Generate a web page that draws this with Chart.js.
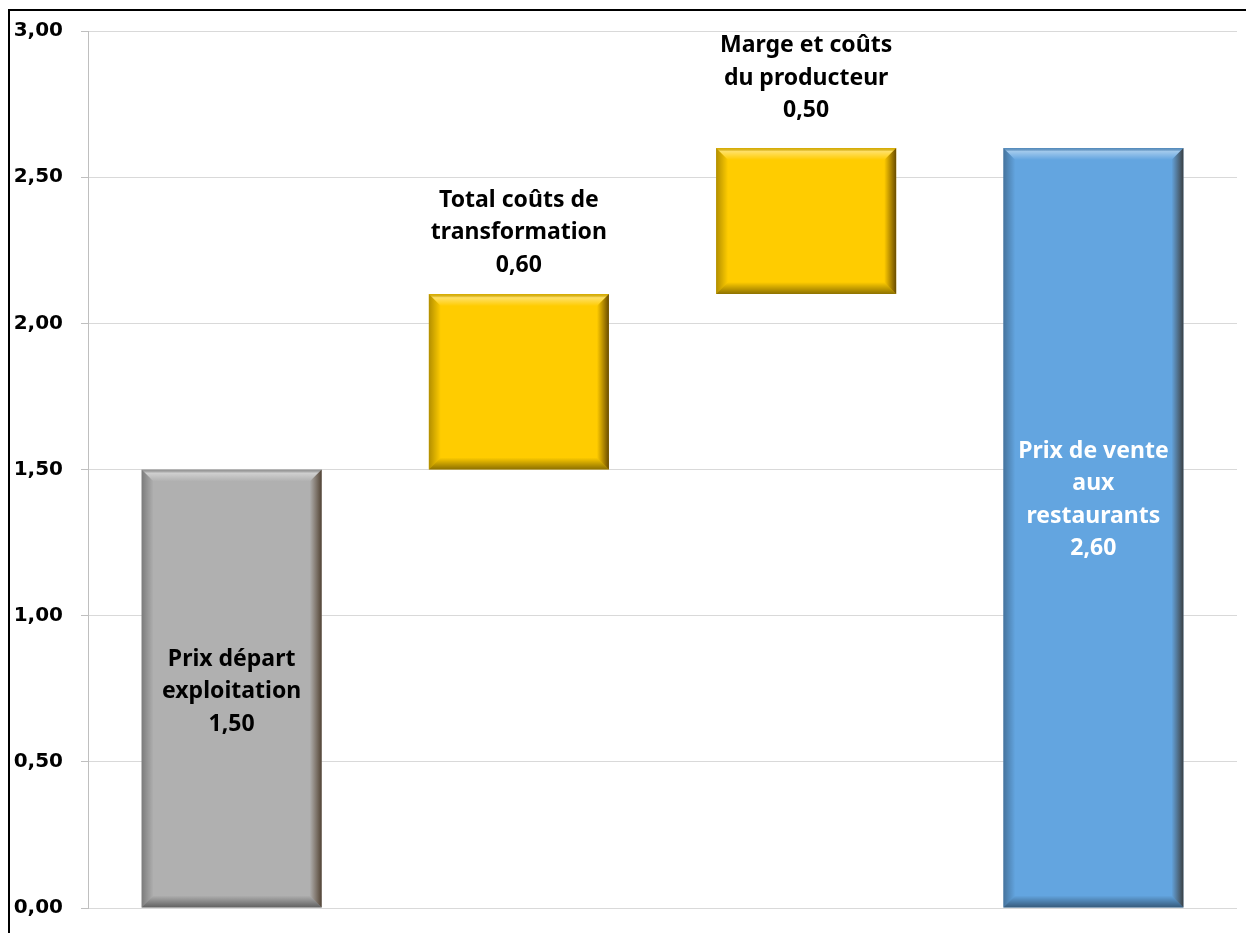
<!DOCTYPE html>
<html>
<head>
<meta charset="utf-8">
<script src="https://cdn.jsdelivr.net/npm/chart.js@4.4.1/dist/chart.umd.min.js"></script>
<style>
  html, body { margin: 0; padding: 0; background: #fff; overflow: hidden; }
  #frame { position: absolute; left: 8px; top: 9px; width: 1300px; height: 1000px; border: 2px solid #000; }
  #wrap { position: absolute; left: 0; top: 0; width: 1246px; height: 933px; }
</style>
</head>
<body>
<div id="frame"></div>
<div id="wrap"><canvas id="bar-chart"></canvas></div>
<script>
// waterfall: each step is a floating bar [from, to]
const categories = ['Prix départ exploitation', 'Total coûts de transformation', 'Marge et coûts du producteur', 'Prix de vente aux restaurants'];
const labelLines = [
  ['Prix départ', 'exploitation'],
  ['Total coûts de', 'transformation'],
  ['Marge et coûts', 'du producteur'],
  ['Prix de vente', 'aux', 'restaurants']
];
const stepValues = [1.50, 0.60, 0.50, 2.60];
const barStart = [0, 1.50, 2.10, 0];
const barEnd = [1.50, 2.10, 2.60, 2.60];
const yTicks = [0, 0.5, 1, 1.5, 2, 2.5, 3];

const barColors = ['#b0b0b0', '#ffcc00', '#ffcc00', '#63a5e0'];
const fmt = v => v.toFixed(2).replace('.', ',');

const bevelPlugin = {
  id: 'bevel',
  afterDatasetsDraw(chart) {
    const ctx = chart.ctx;
    chart.getDatasetMeta(0).data.forEach(bar => {
      const l = bar.x - bar.width / 2, r = bar.x + bar.width / 2;
      const t = Math.min(bar.y, bar.base), b = Math.max(bar.y, bar.base);
      const e = 12;
      const poly = (pts, grad) => {
        ctx.beginPath();
        ctx.moveTo(pts[0][0], pts[0][1]);
        pts.slice(1).forEach(p => ctx.lineTo(p[0], p[1]));
        ctx.closePath();
        ctx.fillStyle = grad;
        ctx.fill();
      };
      ctx.save();
      // top
      let g = ctx.createLinearGradient(0, t, 0, t + e);
      g.addColorStop(0, 'rgba(0,0,0,0.15)');
      g.addColorStop(0.3, 'rgba(255,255,255,0.4)');
      g.addColorStop(1, 'rgba(255,255,255,0)');
      poly([[l, t], [r, t], [r - e, t + e], [l + e, t + e]], g);
      // left
      g = ctx.createLinearGradient(l, 0, l + e, 0);
      g.addColorStop(0, 'rgba(0,0,0,0.3)');
      g.addColorStop(1, 'rgba(0,0,0,0)');
      poly([[l, t], [l + e, t + e], [l + e, b - e], [l, b]], g);
      // right
      g = ctx.createLinearGradient(r - e, 0, r, 0);
      g.addColorStop(0, 'rgba(60,30,0,0)');
      g.addColorStop(1, 'rgba(40,20,0,0.7)');
      poly([[r, t], [r, b], [r - e, b - e], [r - e, t + e]], g);
      // bottom
      g = ctx.createLinearGradient(0, b - e, 0, b);
      g.addColorStop(0, 'rgba(0,0,0,0)');
      g.addColorStop(1, 'rgba(0,0,0,0.45)');
      poly([[l, b], [r, b], [r - e, b - e], [l + e, b - e]], g);
      ctx.restore();
    });
  }
};

const labelPlugin = {
  id: 'stepLabels',
  afterDatasetsDraw(chart, args, opts) {
    const ctx = chart.ctx;
    ctx.save();
    ctx.font = 'bold 23px "Noto Sans", sans-serif';
    ctx.textAlign = 'center';
    ctx.textBaseline = 'middle';
    chart.getDatasetMeta(0).data.forEach((bar, i) => {
      const lines = labelLines[i].concat([fmt(stepValues[i])]);
      const top = Math.min(bar.y, bar.base), bot = Math.max(bar.y, bar.base);
      let cy;
      if (opts.position[i] === 'above') {
        cy = top + opts.offset[i] - (lines.length - 1) * opts.lineHeight / 2;
      } else {
        cy = (top + bot) / 2 + opts.offset[i];
      }
      ctx.fillStyle = opts.color[i];
      lines.forEach((s, k) => {
        ctx.fillText(s, bar.x, cy + (k - (lines.length - 1) / 2) * opts.lineHeight);
      });
    });
    ctx.restore();
  }
};

const chart = new Chart(document.getElementById('bar-chart').getContext('2d'), {
  type: 'bar',
  data: {
    labels: categories,
    datasets: [{
      data: categories.map((c, i) => [barStart[i], barEnd[i]]),
      backgroundColor: barColors,
      borderWidth: 0,
      barPercentage: 0.627,
      categoryPercentage: 1
    }]
  },
  options: {
    responsive: true,
    maintainAspectRatio: false,
    animation: false,
    layout: { padding: { left: 0, right: 9, top: 31, bottom: 25 } },
    plugins: {
      legend: { display: false },
      tooltip: { enabled: false },
      stepLabels: {
        position: ['inside', 'above', 'above', 'inside'],
        offset: [3, -29, -37, -28],
        lineHeight: 32.5,
        color: ['#000', '#000', '#000', '#fff']
      }
    },
    scales: {
      x: { display: false, offset: true },
      y: {
        min: 0,
        max: 3,
        afterBuildTicks: s => { s.ticks = yTicks.map(v => ({ value: v })); },
        afterFit: s => { s.width = 88; s.paddingTop = 0; s.paddingBottom = 0; },
        border: { color: '#bfbfbf', width: 1 },
        grid: { color: '#d9d9d9', tickLength: 7, tickColor: '#bfbfbf' },
        ticks: {
          padding: 18,
          color: '#000',
          font: { family: '"DejaVu Sans", sans-serif', weight: 'bold', size: 20 },
          callback: v => fmt(v)
        }
      }
    }
  },
  plugins: [bevelPlugin, labelPlugin]
});
</script>
</body>
</html>
